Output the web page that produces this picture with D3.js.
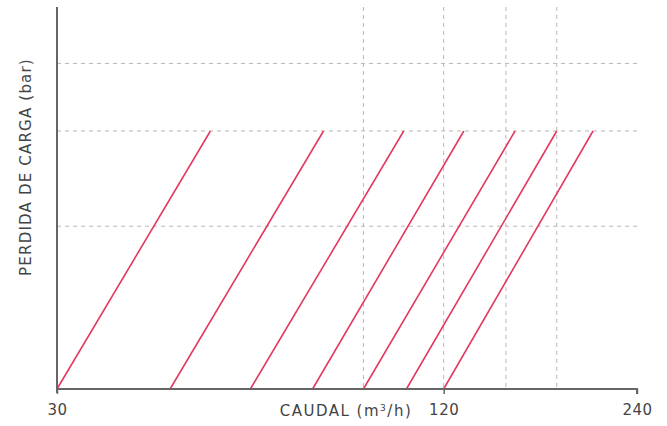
<!DOCTYPE html>
<html>
<head>
<meta charset="utf-8">
<script src="https://cdn.jsdelivr.net/npm/d3@7/dist/d3.min.js"></script>
<style>
  html, body { margin: 0; padding: 0; background: #fff; }
  svg { display: block; }
  text { font-family: "DejaVu Sans", "Liberation Sans", sans-serif; fill: #444; }
</style>
</head>
<body>
<svg id="chart" width="667" height="426"></svg>
<script>
// Flow (m3/h) at start and end of each curve; pressure loss (bar) at start and end
const flowStart = [30, 45, 60, 75, 90, 105, 120];
const flowEnd   = [52, 78, 104, 129, 155, 180, 205];
const lossStart = [0.1, 0.1, 0.1, 0.1, 0.1, 0.1, 0.1];
const lossEnd   = [0.3, 0.3, 0.3, 0.3, 0.3, 0.3, 0.3];

const xTickLabels = [30, 120, 240];
const xGridValues = [90, 120, 150, 180];
const yGridValues = [0.2, 0.3, 0.4];
const xDomain = [30, 240];
const yDomain = [0.1, 0.5];

const svg = d3.select("#chart");
const mLeft = 57, mRight = 637, mTop = 7, mBottom = 389;

const x = d3.scaleLog().domain(xDomain).range([mLeft, mRight]);
const y = d3.scaleLog().domain(yDomain).range([mBottom, 11]);

// grid
const grid = svg.append("g");
grid.selectAll("line.v").data(xGridValues).join("line").attr("class", "v")
  .attr("x1", d => x(d)).attr("x2", d => x(d))
  .attr("y1", mTop).attr("y2", mBottom)
  .attr("stroke", "#b8b8b8").attr("stroke-width", 1).attr("stroke-dasharray", "4,4");
grid.selectAll("line.h").data(yGridValues).join("line").attr("class", "h")
  .attr("x1", mLeft).attr("x2", mRight + 1)
  .attr("y1", d => y(d)).attr("y2", d => y(d))
  .attr("stroke", "#b8b8b8").attr("stroke-width", 1).attr("stroke-dasharray", "4,4");

// curves
const series = flowStart.map((q, i) => [[q, lossStart[i]], [flowEnd[i], lossEnd[i]]]);
const line = d3.line().x(d => x(d[0])).y(d => y(d[1]));
svg.append("g").selectAll("path").data(series).join("path")
  .attr("d", line)
  .attr("fill", "none")
  .attr("stroke", "#e3395e")
  .attr("stroke-width", 1.6);

// x axis
const xAxis = d3.axisBottom(x).tickValues(xTickLabels).tickFormat(d3.format("d"))
  .tickSize(5).tickPadding(10);
const gx = svg.append("g").attr("transform", `translate(0,${mBottom})`).call(xAxis);
gx.select(".domain").attr("stroke", "#666").attr("stroke-width", 2).attr("d", `M${mLeft},0H${mRight}V5`);
gx.selectAll(".tick line").attr("stroke", "#666").attr("stroke-width", 1.5);
gx.selectAll(".tick text").attr("font-size", 15).attr("fill", "#444")
  .style("font-family", "'DejaVu Sans', sans-serif").style("letter-spacing", "0.5px");

// y axis
const gy = svg.append("g").attr("transform", `translate(${mLeft},0)`)
  .call(d3.axisLeft(y).tickValues([]).tickSizeOuter(0));
gy.select(".domain").attr("stroke", "#666").attr("stroke-width", 2).attr("d", `M0,${mTop}V${mBottom + 4}`);

// axis titles
svg.append("text")
  .attr("x", 346).attr("y", 416)
  .attr("text-anchor", "middle").attr("font-size", 15)
  .style("letter-spacing", "1.5px")
  .html('CAUDAL (m<tspan dy="-5" font-size="9">3</tspan><tspan dy="5">/h)</tspan>');

svg.append("text")
  .attr("transform", "translate(31,167) rotate(-90)")
  .attr("text-anchor", "middle").attr("font-size", 15)
  .style("letter-spacing", "1.2px")
  .text("PERDIDA DE CARGA (bar)");
</script>
</body>
</html>
